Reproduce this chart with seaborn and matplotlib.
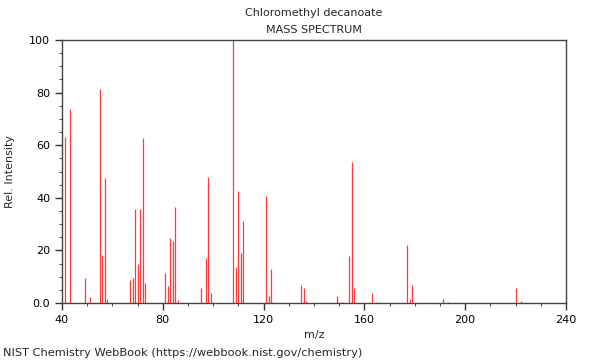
import matplotlib
matplotlib.use("Agg")
import matplotlib.pyplot as plt
from matplotlib.ticker import MultipleLocator, FuncFormatter
import seaborn as sns

mz = [41, 43, 49, 51, 55, 56, 57, 58, 67, 68, 69, 70, 71, 72, 73,
      81, 82, 83, 84, 85, 86, 95, 97, 98, 99, 108, 109, 110, 111, 112,
      121, 122, 123, 135, 136, 137, 149, 151, 154, 155, 156, 163, 165,
      177, 178, 179, 191, 193, 220, 222]
intensidad = [63.2, 73.8, 9.4, 2.2, 81.4, 18.2, 47.7, 1.5, 8.7, 9.4, 35.7, 14.8, 35.7, 62.9, 7.7,
              11.4, 6.3, 24.6, 23.6, 36.5, 1.1, 5.7, 17.2, 47.8, 3.8, 100, 13.6, 42.6, 18.9, 31.1,
              40.6, 2.7, 13.1, 6.8, 5.7, 0.9, 2.8, 0.4, 17.9, 53.7, 5.6, 3.8, 0.4,
              22.0, 1.5, 6.8, 1.5, 0.4, 5.6, 0.9]
titulo = "Chloromethyl decanoate"
subtitulo = "MASS SPECTRUM"
pie = "NIST Chemistry WebBook (https://webbook.nist.gov/chemistry)"

sns.set_theme(style="ticks")
plt.rcParams["font.family"] = ["DejaVu Sans"]
plt.rcParams["font.size"] = 8

fig = plt.figure(figsize=(6, 3.6), dpi=100)
ax = fig.add_axes([0.1033, 0.1583, 0.84, 0.7306])

ax.vlines(mz, 0, intensidad, colors="#ff3b3b", linewidth=0.9)

ax.set_xlim(40, 240)
ax.set_ylim(0, 100)
ax.xaxis.set_major_locator(MultipleLocator(40))
ax.xaxis.set_minor_locator(MultipleLocator(10))
ax.yaxis.set_major_locator(MultipleLocator(20))
ax.yaxis.set_minor_locator(MultipleLocator(5))
ax.yaxis.set_major_formatter(FuncFormatter(lambda v, p: "0.0" if v == 0 else f"{v:.0f}"))
ax.tick_params(which="major", length=5, width=1, colors="#333333", labelcolor="black",
               labelsize=8, direction="out")
ax.tick_params(which="minor", length=2.5, width=0.8, colors="#555555", direction="out")
for s in ax.spines.values():
    s.set_color("#444444")
    s.set_linewidth(1)

ax.set_xlabel("m/z", fontsize=8, labelpad=4)
ax.set_ylabel("Rel. Intensity", fontsize=8, labelpad=10)

fig.text(0.523, 0.963, titulo, ha="center", va="center", fontsize=8)
fig.text(0.523, 0.916, subtitulo, ha="center", va="center", fontsize=8)
fig.text(0.005, 0.02, pie, ha="left", va="center", fontsize=8.2)

fig.savefig("out.png", dpi=100)
plt.close(fig)
